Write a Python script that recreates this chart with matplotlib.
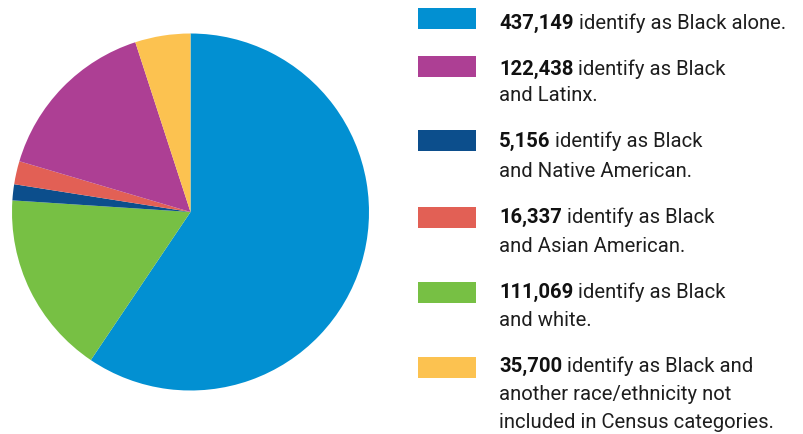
import matplotlib.pyplot as plt
from matplotlib.patches import Rectangle

plt.rcParams['font.family'] = ['Roboto', 'DejaVu Sans']

# legend order
groups = ['Black alone', 'Black and Latinx', 'Black and Native American',
          'Black and Asian American', 'Black and white', 'Black and other']
counts = [437149, 122438, 5156, 16337, 111069, 35700]
# slice sizes (%) as drawn in the chart
pie_share = [59.4, 15.4, 1.45, 2.1, 16.6, 5.0]
colors = ['#0290D2', '#AD3F94', '#0C4E8C', '#E26055', '#77C044', '#FCC250']
descr = [
    [' identify as Black alone.'],
    [' identify as Black', 'and Latinx.'],
    [' identify as Black', 'and Native American.'],
    [' identify as Black', 'and Asian American.'],
    [' identify as Black', 'and white.'],
    [' identify as Black and', 'another race/ethnicity not', 'included in Census categories.'],
]
# order of slices clockwise from 12 o'clock
pie_order = [0, 4, 2, 3, 1, 5]

W, H = 804, 435
fig = plt.figure(figsize=(W / 100, H / 100), dpi=100)

# pie
cx, cy, r = 190.5, 213, 178.5
ax = fig.add_axes([(cx - r) / W, 1 - (cy + r) / H, 2 * r / W, 2 * r / H])
ax.pie([pie_share[i] for i in pie_order], colors=[colors[i] for i in pie_order],
       startangle=90, counterclock=False, radius=1,
       wedgeprops=dict(linewidth=0))
ax.set_xlim(-1, 1)
ax.set_ylim(-1, 1)
ax.set_aspect('equal')
ax.axis('off')

# legend, drawn in pixel coords
lg = fig.add_axes([0, 0, 1, 1])
lg.set_xlim(0, W)
lg.set_ylim(H, 0)
lg.axis('off')

rect_top = [8.5, 56.7, 131, 208.3, 283.3, 358.3]
base1 = [28.5, 75, 147.3, 223.3, 297.5, 371.7]
line_gap = [0, 26, 29.5, 28.4, 28.5, 28.3]
fs = 14.6
tx = 499

for i in range(len(counts)):
    lg.add_patch(Rectangle((418.3, rect_top[i]), 57.4, 21, color=colors[i], lw=0))
    b = lg.text(tx, base1[i], f'{counts[i]:,}', fontsize=fs, fontweight='bold',
                color='#111111', va='baseline', ha='left')
    lg.annotate(descr[i][0], xy=(1, 0), xycoords=b, fontsize=fs,
                color='#1e1e1e', va='bottom', ha='left')
    for j, line in enumerate(descr[i][1:], start=1):
        lg.text(tx, base1[i] + j * line_gap[i], line, fontsize=fs,
                color='#1e1e1e', va='baseline', ha='left')

fig.savefig('out.png', dpi=100, facecolor='white')
